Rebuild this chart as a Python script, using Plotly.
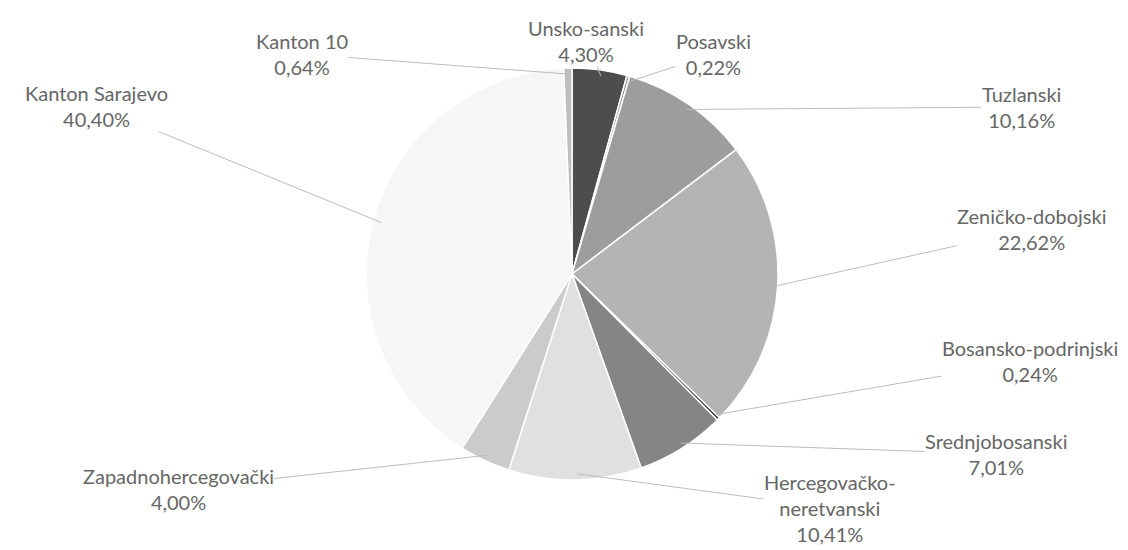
import math
import plotly.graph_objects as go

labels = ["Unsko-sanski", "Posavski", "Tuzlanski", "Zeničko-dobojski",
          "Bosansko-podrinjski", "Srednjobosanski", "Hercegovačko-neretvanski",
          "Zapadnohercegovački", "Kanton Sarajevo", "Kanton 10"]
label_text = ["Unsko-sanski", "Posavski", "Tuzlanski", "Zeničko-dobojski",
              "Bosansko-podrinjski", "Srednjobosanski", "Hercegovačko-<br>neretvanski",
              "Zapadnohercegovački", "Kanton Sarajevo", "Kanton 10"]
values = [4.30, 0.22, 10.16, 22.62, 0.24, 7.01, 10.41, 4.00, 40.40, 0.64]
value_text = ["4,30%", "0,22%", "10,16%", "22,62%", "0,24%", "7,01%",
              "10,41%", "4,00%", "40,40%", "0,64%"]

colors = ["#4d4d4d", "#8c8c8c", "#9d9d9d", "#b4b4b4", "#3a3a3a",
          "#858585", "#e0e0e0", "#cbcbcb", "#f6f6f6", "#bdbdbd"]

# label block centres in pixels (layout)
label_pos = [(578, 33), (705, 46), (1013, 99), (1024, 221), (1022, 353),
             (988, 446), (822, 500), (170, 481), (88, 98), (294, 46)]

W, H = 1128, 550
cx, cy, R = 566, 266, 206

fig = go.Figure(go.Pie(
    labels=labels, values=values, sort=False, direction="clockwise",
    rotation=0, textinfo="none", hoverinfo="label+percent",
    marker=dict(colors=colors, line=dict(color="white", width=1.5)),
    domain=dict(x=[0.15, 0.85], y=[(H - cy - R) / H, (H - cy + R) / H]),
    showlegend=False,
))

total = sum(values)
cum = 0.0
annotations = []
for lab, val, vt, (lx, ly) in zip(label_text, values, value_text, label_pos):
    mid = (cum + val / 2) / total * 2 * math.pi
    cum += val
    px = cx + R * 0.97 * math.sin(mid)
    py = cy - R * 0.97 * math.cos(mid)
    annotations.append(dict(
        x=px / W, y=1 - py / H, xref="paper", yref="paper",
        ax=lx - px, ay=ly - py, axref="pixel", ayref="pixel",
        text=f"{lab}<br>{vt}", showarrow=True, arrowhead=0,
        arrowwidth=1, arrowcolor="#bcbcbc", align="center", borderpad=0,
        font=dict(family="Lato, Open Sans, sans-serif", size=20, color="#666666"),
    ))

fig.update_layout(
    width=W, height=H, margin=dict(l=0, r=0, t=0, b=0),
    paper_bgcolor="white", plot_bgcolor="white",
    annotations=annotations,
)

fig.write_html("out.html")
